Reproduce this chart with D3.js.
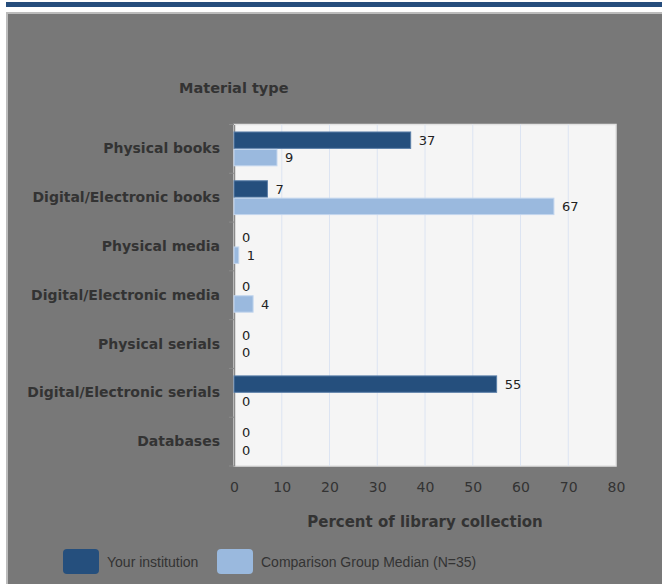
<!DOCTYPE html>
<html>
<head>
<meta charset="utf-8">
<script src="https://cdn.jsdelivr.net/npm/d3@7"></script>
<style>
  body { margin: 0; background: #fff; }
  svg { display: block; font-family: "Liberation Sans", Arial, sans-serif; }
</style>
</head>
<body>
<div id="chart"></div>
<script>
// Chart data
const categories = [
  "Physical books",
  "Digital/Electronic books",
  "Physical media",
  "Digital/Electronic media",
  "Physical serials",
  "Digital/Electronic serials",
  "Databases"
];
const yourInstitution = [37, 7, 0, 0, 0, 55, 0];
const comparisonMedian = [9, 67, 1, 4, 0, 0, 0];
const seriesNames = ["Your institution", "Comparison Group Median (N=35)"];
const xTicks = [0, 10, 20, 30, 40, 50, 60, 70, 80];

const colors = ["#254f7d", "#9ab9de"];
const strokes = ["#5b7fa8", "#c3d6ee"];
const wideFont = "'DejaVu Sans', Verdana, sans-serif";

const W = 662, H = 584;
const plot = { left: 234, right: 616, top: 124.5, bottom: 466 };

const svg = d3.select("#chart").append("svg")
  .attr("width", W)
  .attr("height", H);

// top banner and gray panel
svg.append("rect").attr("x", 6).attr("y", 2).attr("width", W - 6).attr("height", 5).attr("fill", "#264d7c");
svg.append("rect")
  .attr("x", 7).attr("y", 13).attr("width", W).attr("height", H)
  .attr("fill", "#787878").attr("stroke", "#bcbcbc").attr("stroke-width", 2);

// Scales
const x = d3.scaleLinear().domain([0, 80]).range([plot.left, plot.right]);
const y = d3.scaleBand().domain(categories).range([plot.top, plot.bottom])
  .paddingInner(0.286).paddingOuter(0.143);
const sub = d3.scaleBand().domain([0, 1]).range([0, y.bandwidth()]);

// plot background
svg.append("rect")
  .attr("x", plot.left).attr("y", plot.top)
  .attr("width", plot.right - plot.left).attr("height", plot.bottom - plot.top)
  .attr("fill", "#f5f5f5").attr("stroke", "#e2e2e2").attr("stroke-width", 1.5);

// gridlines
svg.append("g")
  .selectAll("line")
  .data(xTicks.slice(1, -1))
  .join("line")
  .attr("x1", d => x(d)).attr("x2", d => x(d))
  .attr("y1", plot.top).attr("y2", plot.bottom)
  .attr("stroke", "#dce4f2").attr("stroke-width", 1);

// X axis
const xAxis = svg.append("g")
  .attr("transform", `translate(0,${plot.bottom})`)
  .call(d3.axisBottom(x).tickValues(xTicks).tickSize(0).tickPadding(16).tickFormat(d3.format("d")));
xAxis.select(".domain").remove();
xAxis.selectAll("text")
  .attr("fill", "#333")
  .style("font-family", wideFont)
  .style("font-size", "14px");

// Y axis
const step = y.step();
const yAxis = svg.append("g")
  .attr("transform", `translate(${plot.left},0)`)
  .call(d3.axisLeft(y).tickSize(0).tickPadding(14));
yAxis.select(".domain").attr("stroke", "#8a8a8a").attr("stroke-width", 1.5);
yAxis.selectAll("text")
  .attr("fill", "#333")
  .style("font-family", wideFont)
  .style("font-size", "14px")
  .style("font-weight", "bold");
// category separators on the axis
yAxis.append("g")
  .selectAll("line")
  .data(d3.range(categories.length + 1))
  .join("line")
  .attr("x1", -5).attr("x2", 0)
  .attr("y1", i => plot.top + i * step).attr("y2", i => plot.top + i * step)
  .attr("stroke", "#8a8a8a");

// Bars
const rows = categories.map((c, i) => ({ cat: c, values: [yourInstitution[i], comparisonMedian[i]] }));
const groups = svg.append("g")
  .selectAll("g")
  .data(rows)
  .join("g")
  .attr("transform", d => `translate(0,${y(d.cat)})`);

groups.selectAll("rect")
  .data(d => d.values.map((v, s) => ({ v, s })))
  .join("rect")
  .attr("x", x(0))
  .attr("y", d => sub(d.s) + 0.5)
  .attr("width", d => x(d.v) - x(0))
  .attr("height", sub.bandwidth() - 1)
  .attr("fill", d => colors[d.s])
  .attr("stroke", d => d.v > 0 ? strokes[d.s] : "none")
  .attr("stroke-width", 1);

groups.selectAll("text")
  .data(d => d.values.map((v, s) => ({ v, s })))
  .join("text")
  .attr("x", d => x(d.v) + 8)
  .attr("y", d => sub(d.s) + sub.bandwidth() / 2)
  .attr("dy", "0.35em")
  .attr("fill", "#222")
  .style("font-family", wideFont)
  .style("font-size", "13px")
  .text(d => d.v);

// Titles
svg.append("text")
  .attr("x", 179).attr("y", 93)
  .attr("fill", "#333")
  .style("font-family", wideFont)
  .style("font-size", "14.5px").style("font-weight", "bold")
  .text("Material type");

svg.append("text")
  .attr("x", (plot.left + plot.right) / 2).attr("y", 527)
  .attr("text-anchor", "middle")
  .attr("fill", "#333")
  .style("font-family", wideFont)
  .style("font-size", "15px").style("font-weight", "bold")
  .text("Percent of library collection");

// Legend
const legendX = [63, 217];
const legend = svg.append("g")
  .selectAll("g")
  .data(seriesNames)
  .join("g")
  .attr("transform", (d, i) => `translate(${legendX[i]},549)`);
legend.append("rect")
  .attr("width", 36).attr("height", 25).attr("rx", 4)
  .attr("fill", (d, i) => colors[i]);
legend.append("text")
  .attr("x", 44).attr("y", 13).attr("dy", "0.35em")
  .attr("fill", "#333")
  .style("font-size", "14px")
  .text(d => d);
</script>
</body>
</html>
